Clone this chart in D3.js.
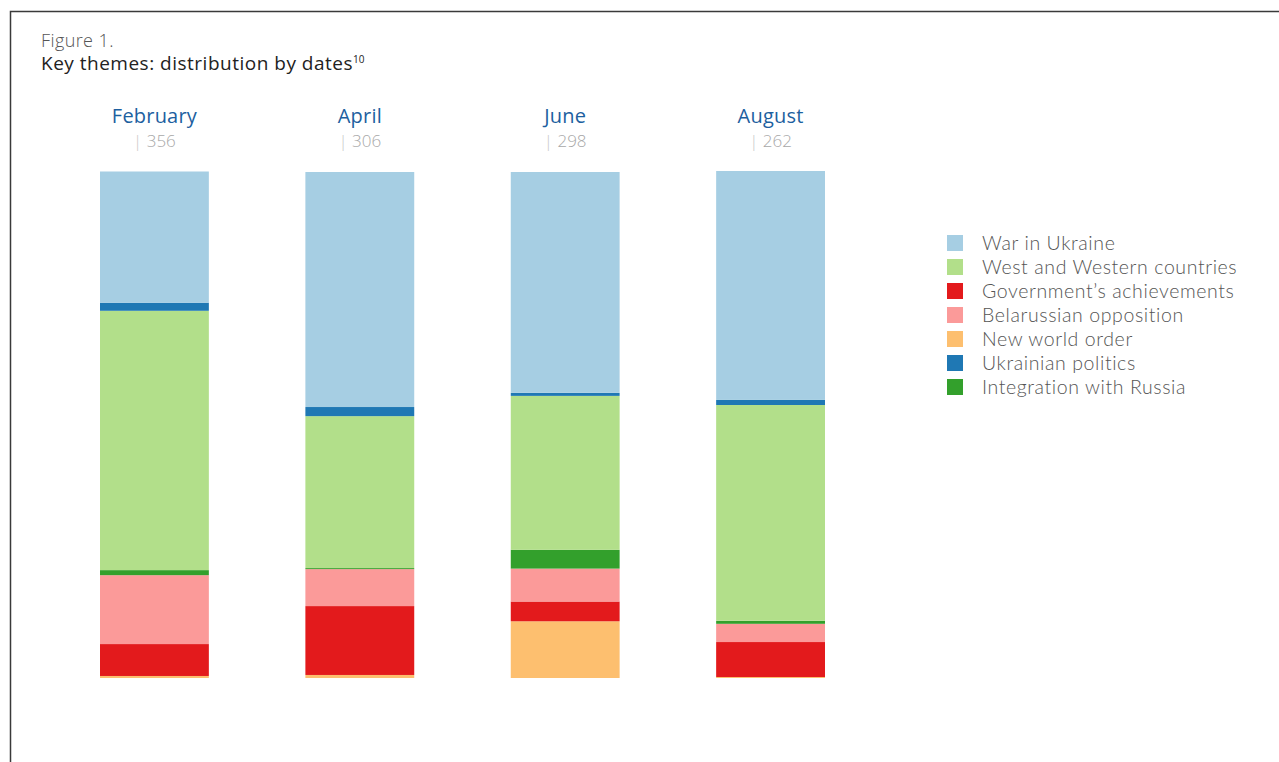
<!DOCTYPE html>
<html>
<head>
<meta charset="utf-8">
<script src="https://cdnjs.cloudflare.com/ajax/libs/d3/7.8.5/d3.min.js"></script>
<style>
  body { margin: 0; background: #fff; }
  svg { display: block; font-family: "Open Sans", Lato, sans-serif; }
</style>
</head>
<body>
<svg id="chart" width="1279" height="762"></svg>
<script>
// months and number of items per month
const months = ["February", "April", "June", "August"];
const counts = [356, 306, 298, 262];

// themes, bottom of the stack first
const themes = ["New world order", "Government’s achievements", "Belarussian opposition",
  "Integration with Russia", "West and Western countries", "Ukrainian politics", "War in Ukraine"];

// share of each theme per month, %
const newWorldOrder = [0.4, 0.6, 11.2, 0.2];
const govAchievements = [6.3, 13.6, 3.9, 6.9];
const opposition = [13.6, 7.3, 6.5, 3.6];
const integration = [1.0, 0.2, 3.7, 0.6];
const west = [51.2, 30.0, 30.4, 42.6];
const ukrPolitics = [1.6, 1.8, 0.6, 1.0];
const war = [25.9, 46.4, 43.6, 45.2];

// legend order as in the figure
const legendOrder = ["War in Ukraine", "West and Western countries", "Government’s achievements",
  "Belarussian opposition", "New world order", "Ukrainian politics", "Integration with Russia"];

const colors = {
  "War in Ukraine": "#a6cee3",
  "West and Western countries": "#b2df8a",
  "Government’s achievements": "#e31a1c",
  "Belarussian opposition": "#fb9a99",
  "New world order": "#fdbf6f",
  "Ukrainian politics": "#1f78b4",
  "Integration with Russia": "#33a02c"
};

const series = [newWorldOrder, govAchievements, opposition, integration, west, ukrPolitics, war];
const rows = months.map((m, i) => {
  const r = { month: m };
  themes.forEach((t, j) => r[t] = series[j][i]);
  return r;
});

const svg = d3.select("#chart");

// frame lines (top and left)
svg.append("path")
  .attr("d", "M10.5,762 V11.5 H1279")
  .attr("fill", "none")
  .attr("stroke", "#3a3a3a")
  .attr("stroke-width", 1.5);

// titles
svg.append("text")
  .attr("x", 41).attr("y", 47)
  .attr("font-size", 18).attr("font-weight", 300).attr("fill", "#555")
  .attr("letter-spacing", 0.4)
  .text("Figure 1.");
const title = svg.append("text")
  .attr("x", 41).attr("y", 70)
  .attr("font-size", 19).attr("font-weight", 500).attr("fill", "#222")
  .attr("letter-spacing", 0.5)
  .text("Key themes: distribution by dates");
title.append("tspan").attr("font-size", 10).attr("dy", -7).attr("letter-spacing", 0).text("10");

const x = d3.scaleBand()
  .domain(months)
  .range([100, 825])
  .paddingInner(0.47)
  .paddingOuter(0);

const y = d3.scaleLinear()
  .domain([0, 100])
  .range([678, 171.5]);

const stacked = d3.stack().keys(themes)(rows);

svg.append("g")
  .selectAll("g")
  .data(stacked)
  .join("g")
  .attr("fill", d => colors[d.key])
  .selectAll("rect")
  .data(d => d)
  .join("rect")
  .attr("x", d => x(d.data.month))
  .attr("width", x.bandwidth())
  .attr("y", d => y(d[1]))
  .attr("height", d => y(d[0]) - y(d[1]));

// month headers
const head = svg.append("g")
  .selectAll("g")
  .data(months)
  .join("g")
  .attr("transform", d => `translate(${x(d) + x.bandwidth() / 2},0)`);

head.append("text")
  .attr("y", 123)
  .attr("text-anchor", "middle")
  .attr("font-size", 20)
  .attr("letter-spacing", 0.2)
  .attr("fill", "#1d5f9f")
  .text(d => d);

const cnt = head.append("text")
  .attr("y", 147)
  .attr("text-anchor", "middle")
  .attr("font-size", 17)
  .attr("font-weight", 300)
  .attr("fill", "#a8a8a8");
cnt.append("tspan").attr("fill", "#c8c8c8").text("| ");
cnt.append("tspan").text((d, i) => counts[i]);

// legend
const leg = svg.append("g")
  .selectAll("g")
  .data(legendOrder)
  .join("g")
  .attr("transform", (d, i) => `translate(947,${235 + i * 24})`);

leg.append("rect")
  .attr("width", 16).attr("height", 16)
  .attr("fill", d => colors[d]);

leg.append("text")
  .attr("x", 35).attr("y", 8.5)
  .attr("dy", "0.35em")
  .attr("font-family", "Lato, sans-serif")
  .attr("font-size", 19.5)
  .attr("font-weight", 300)
  .attr("letter-spacing", 0.6)
  .attr("fill", "#555")
  .text(d => d);
</script>
</body>
</html>
